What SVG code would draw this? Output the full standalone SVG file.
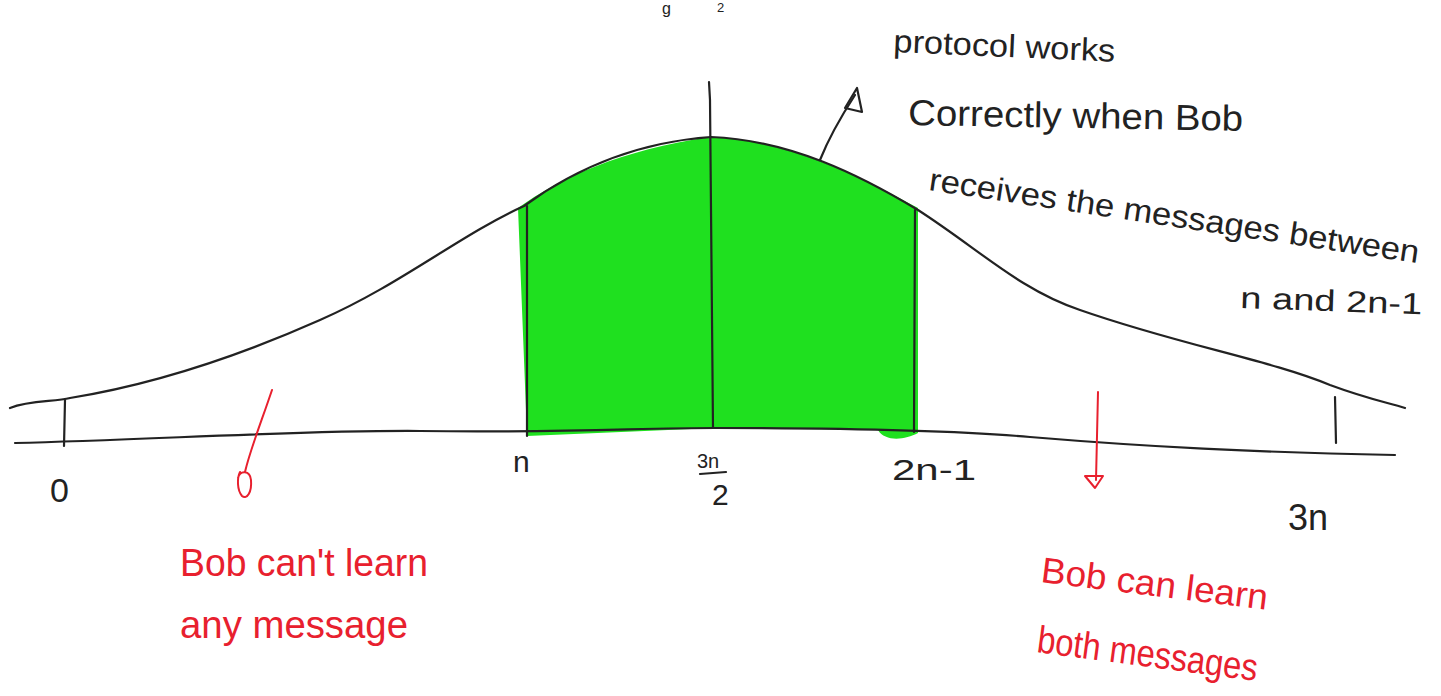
<svg xmlns="http://www.w3.org/2000/svg" width="1441" height="696" viewBox="0 0 1441 696">
<style>
.ink{fill:none;stroke:#222;stroke-width:2.2;stroke-linecap:round;stroke-linejoin:round}
.red{fill:none;stroke:#e8202e;stroke-width:2;stroke-linecap:round;stroke-linejoin:round}
.t{font-family:"Liberation Sans","DejaVu Sans",sans-serif;fill:#222;font-weight:normal}
.r{font-family:"Liberation Sans","DejaVu Sans",sans-serif;fill:#e8202e}
</style>
<rect width="1441" height="696" fill="#fff"/>
<g id="topcut">
<text class="t" x="662" y="14" font-size="16">g</text>
<text class="t" x="717" y="12" font-size="13">2</text>
</g>
<g id="green-region">
<path d="M518,208 C560,178 620,150 711,137 C785,141 845,168 918,208 L918,433 C905,440 885,442 878,430 L715,428 L527,436 L520,258 Z" fill="#1fe01f"/>
</g>
<g id="curves">
<path class="ink" d="M15,443 C150,440 300,430 420,431 C560,433 640,428 715,428 C820,428 950,430 1030,437 C1150,447 1250,452 1395,455"/>
<path class="ink" d="M10,408 C30,400 55,402 70,398 C150,385 230,360 320,320 C400,285 460,235 524,206 C580,165 640,142 711,137 C790,140 860,175 918,210 C980,250 1020,290 1080,310 C1180,345 1270,360 1330,385 C1365,398 1385,402 1405,408"/>
<path class="ink" d="M527,206 L527,436"/>
<path class="ink" d="M709,82 L710,100 L713,428"/>
<path class="ink" d="M915,210 L914,432"/>
<path class="ink" d="M65,400 L64,446"/>
<path class="ink" d="M1335,397 L1336,443"/>
</g>
<g id="connectors">
<path class="ink" d="M820,160 C830,135 842,115 855,95"/>
<path class="ink" d="M845,108 L857,88 L862,112 Z"/>
<path class="red" d="M272,390 C262,420 250,450 245,472"/>
<path class="red" d="M238,478 C240,470 250,470 251,480 C252,492 247,500 242,496 C237,490 237,478 240,472"/>
<path class="red" d="M1098,392 L1096,480"/>
<path class="red" d="M1085,476 L1103,476 L1095,488 Z"/>
</g>
<g id="axis-labels">
<text class="t" x="50" y="502" font-size="34">0</text>
<text class="t" x="513" y="472" font-size="30">n</text>
<text class="t" x="697" y="468" font-size="20">3n</text>
<path class="ink" d="M700,474 L726,472"/>
<text class="t" x="712" y="505" font-size="30">2</text>
<text class="t" x="892" y="480" font-size="30" textLength="84" lengthAdjust="spacingAndGlyphs">2n-1</text>
<text class="t" x="1288" y="530" font-size="36">3n</text>
</g>
<g id="annotation">
<text class="t" transform="translate(893,52) rotate(2.5)" font-size="32" textLength="222" lengthAdjust="spacingAndGlyphs">protocol works</text>
<text class="t" transform="translate(908,125) rotate(1)" font-size="36" textLength="335" lengthAdjust="spacingAndGlyphs">Correctly when Bob</text>
<text class="t" transform="translate(928,190) rotate(8.5)" font-size="32" textLength="495" lengthAdjust="spacingAndGlyphs">receives the messages between</text>
<text class="t" transform="translate(1240,308) rotate(2)" font-size="30" textLength="182" lengthAdjust="spacingAndGlyphs">n and 2n-1</text>
</g>
<g id="left-note">
<text class="r" x="180" y="576" font-size="38" textLength="248" lengthAdjust="spacingAndGlyphs">Bob can't learn</text>
<text class="r" x="180" y="638" font-size="38" textLength="228" lengthAdjust="spacingAndGlyphs">any message</text>
</g>
<g id="right-note">
<text class="r" transform="translate(1040,582) rotate(7)" font-size="36" textLength="228" lengthAdjust="spacingAndGlyphs">Bob can learn</text>
<text class="r" transform="translate(1036,652) rotate(7.5)" font-size="38" textLength="222" lengthAdjust="spacingAndGlyphs">both messages</text>
</g>
</svg>
